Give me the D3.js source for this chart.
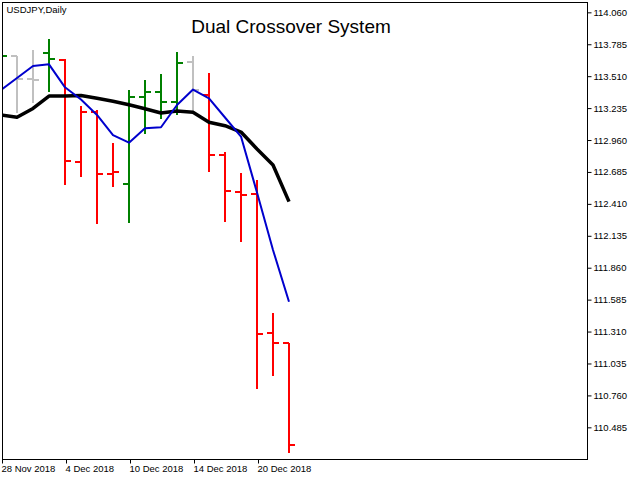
<!DOCTYPE html>
<html>
<head>
<meta charset="utf-8">
<script src="https://cdn.jsdelivr.net/npm/d3@7"></script>
<style>
  body { margin: 0; background: #fff; }
  svg { display: block; }
  text { font-family: "Liberation Sans", Arial, sans-serif; }
</style>
</head>
<body>
<svg width="640" height="480"></svg>
<script>
// daily USDJPY bars
const dates = ["28 Nov 2018", "29 Nov 2018", "30 Nov 2018", "3 Dec 2018", "4 Dec 2018",
    "5 Dec 2018", "6 Dec 2018", "7 Dec 2018", "10 Dec 2018", "11 Dec 2018", "12 Dec 2018",
    "13 Dec 2018", "14 Dec 2018", "17 Dec 2018", "18 Dec 2018", "19 Dec 2018",
    "20 Dec 2018", "21 Dec 2018", "24 Dec 2018"];
const open  = [113.600, 113.686, 113.483, 113.707, 113.649, 112.773, 113.204, 112.667, 112.581, 113.333,
    113.376, 113.290, 113.635, 113.345, 112.831, 112.512, 112.491, 111.295, 111.209];
const high  = [113.750, 113.686, 113.736, 113.830, 113.658, 113.253, 113.219, 112.932, 113.391, 113.477,
    113.529, 113.718, 113.684, 113.535, 112.859, 112.673, 112.616, 111.467, 111.209];
const low   = [113.450, 113.190, 113.283, 113.376, 112.573, 112.644, 112.234, 112.553, 112.243, 113.012,
    113.139, 113.176, 113.204, 112.682, 112.251, 112.084, 110.813, 110.930, 110.261];
const close = [113.686, 113.488, 113.480, 113.655, 112.782, 113.199, 112.667, 112.687, 113.333, 113.376,
    113.290, 113.626, 113.391, 112.831, 112.521, 112.486, 111.286, 111.209, 110.333];
// bar colour state: g = green, s = silver, r = red
const state = ["g", "s", "s", "g", "r", "r", "r", "r", "g", "g", "g", "g", "s", "r", "r", "r", "r", "r", "r"];
const fastMA = [113.391, 113.494, 113.598, 113.612, 113.414, 113.309, 113.176, 113.003, 112.937, 113.061,
    113.070, 113.262, 113.395, 113.319, 113.154, 112.990, 112.508, 112.013, 111.567];
const slowMA = [113.176, 113.156, 113.232, 113.339, 113.339, 113.343, 113.319, 113.294, 113.264, 113.230,
    113.193, 113.210, 113.199, 113.113, 113.083, 113.029, 112.883, 112.745, 112.429];
const priceTicks = [114.060, 113.785, 113.510, 113.235, 112.960, 112.685, 112.410, 112.135,
    111.860, 111.585, 111.310, 111.035, 110.760, 110.485];
const dateTicks = [0, 4, 8, 12, 16];

const colors = { g: "#008000", s: "#c0c0c0", r: "#ff0000" };

const plot = { left: 2, top: 2, right: 587, bottom: 459 };

const x = d3.scaleLinear()
    .domain([0, 1])
    .range([1, 17]);

const y = d3.scaleLinear()
    .domain([110.485, 114.060])
    .range([427.33, 12.33]);

const py = v => Math.round(y(v));

const svg = d3.select("svg");

svg.append("defs").append("clipPath")
    .attr("id", "plot-clip")
    .append("rect")
    .attr("x", plot.left + 1)
    .attr("y", plot.top + 1)
    .attr("width", plot.right - plot.left - 1)
    .attr("height", plot.bottom - plot.top - 1);

const g = svg.append("g").attr("clip-path", "url(#plot-clip)");

const bars = d3.range(dates.length);

// vertical high-low lines
g.append("g")
    .selectAll("line")
    .data(bars)
    .join("line")
    .attr("x1", i => x(i))
    .attr("x2", i => x(i))
    .attr("y1", i => py(high[i]))
    .attr("y2", i => py(low[i]))
    .attr("stroke", i => colors[state[i]])
    .attr("stroke-width", 2);

// open ticks (left)
g.append("g")
    .selectAll("line")
    .data(bars)
    .join("line")
    .attr("x1", i => x(i) - 6)
    .attr("x2", i => x(i))
    .attr("y1", i => py(open[i]))
    .attr("y2", i => py(open[i]))
    .attr("stroke", i => colors[state[i]])
    .attr("stroke-width", 2);

// close ticks (right)
g.append("g")
    .selectAll("line")
    .data(bars)
    .join("line")
    .attr("x1", i => x(i))
    .attr("x2", i => x(i) + 6)
    .attr("y1", i => py(close[i]))
    .attr("y2", i => py(close[i]))
    .attr("stroke", i => colors[state[i]])
    .attr("stroke-width", 2);

const line = arr => d3.line()
    .x(i => x(i))
    .y(i => y(arr[i]));

g.append("path")
    .datum(bars)
    .attr("d", line(slowMA))
    .attr("fill", "none")
    .attr("stroke", "#000")
    .attr("stroke-width", 3.5)
    .attr("stroke-linejoin", "round");

g.append("path")
    .datum(bars)
    .attr("d", line(fastMA))
    .attr("fill", "none")
    .attr("stroke", "#0000cd")
    .attr("stroke-width", 2)
    .attr("stroke-linejoin", "round");

// frame
svg.append("rect")
    .attr("x", plot.left + 0.5)
    .attr("y", plot.top + 0.5)
    .attr("width", plot.right - plot.left)
    .attr("height", plot.bottom - plot.top)
    .attr("fill", "none")
    .attr("stroke", "#000");

const yAxis = svg.append("g")
    .attr("transform", `translate(${plot.right + 0.5},0)`)
    .call(d3.axisRight(y).tickValues(priceTicks).tickSize(4).tickPadding(2).tickFormat(d3.format(".3f")))
    .call(g => g.select(".domain").remove());

const xAxis = svg.append("g")
    .attr("transform", `translate(1,${plot.bottom + 0.5})`)
    .call(d3.axisBottom(x).tickValues(dateTicks).tickSize(4).tickFormat(i => dates[i]))
    .call(g => g.select(".domain").remove());

xAxis.selectAll(".tick text")
    .attr("text-anchor", "start")
    .attr("x", -1)
    .attr("dy", "0.55em");

svg.selectAll(".tick text")
    .attr("font-family", "'Liberation Sans', Arial, sans-serif")
    .attr("font-size", 9.5)
    .attr("fill", "#000");

svg.append("text")
    .attr("x", 6.5)
    .attr("y", 13)
    .attr("font-size", 9.5)
    .text("USDJPY,Daily");

svg.append("text")
    .attr("x", 291)
    .attr("y", 33.3)
    .attr("text-anchor", "middle")
    .attr("font-size", 19)
    .text("Dual Crossover System");
</script>
</body>
</html>
